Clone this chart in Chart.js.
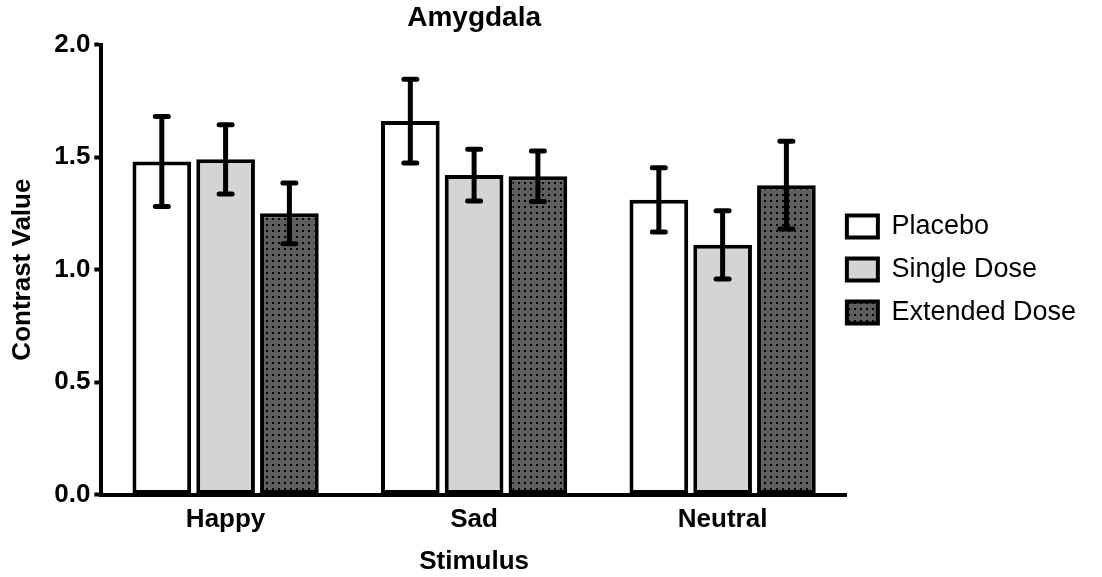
<!DOCTYPE html>
<html>
<head>
<meta charset="utf-8">
<script src="https://cdn.jsdelivr.net/npm/chart.js@4.4.1/dist/chart.umd.min.js"></script>
<style>
    html, body { margin: 0; padding: 0; background: #fff; }
    #wrap { width: 1102px; height: 577px; }
</style>
</head>
<body>
<div id="wrap"><canvas id="chart"></canvas></div>
<script>
// values (mean and SEM per stimulus)
const stimuli = ["Happy", "Sad", "Neutral"];
const placebo = [1.48, 1.66, 1.31];
const placeboSem = [0.20, 0.186, 0.143];
const singleDose = [1.49, 1.42, 1.11];
const singleDoseSem = [0.154, 0.115, 0.152];
const extendedDose = [1.25, 1.415, 1.375];
const extendedDoseSem = [0.135, 0.112, 0.195];
const yTicks = [0, 0.5, 1.0, 1.5, 2.0];

const FONT = "'Liberation Sans', Arial, sans-serif";

// dotted dark grey fill for the extended dose bars
function dotPattern() {
    const c = document.createElement("canvas");
    c.width = 6;
    c.height = 6;
    const g = c.getContext("2d");
    g.fillStyle = "#5e5e5e";
    g.fillRect(0, 0, 6, 6);
    g.fillStyle = "#000";
    g.fillRect(2, 2, 2, 2);
    return g.createPattern(c, "repeat");
}

// draws the SEM whiskers on top of each bar
const errorBars = {
    id: "errorBars",
    afterDatasetsDraw(chart) {
        const ctx = chart.ctx;
        const yScale = chart.scales.y;
        chart.data.datasets.forEach((ds, i) => {
            const meta = chart.getDatasetMeta(i);
            if (meta.hidden) return;
            meta.data.forEach((bar, j) => {
                const v = ds.data[j];
                const e = ds.sem[j];
                const top = yScale.getPixelForValue(v + e);
                const bot = yScale.getPixelForValue(v - e);
                ctx.save();
                ctx.strokeStyle = "#000";
                ctx.lineWidth = 5;
                ctx.lineCap = "round";
                ctx.beginPath();
                ctx.moveTo(bar.x, top);
                ctx.lineTo(bar.x, bot);
                ctx.moveTo(bar.x - 6.5, top);
                ctx.lineTo(bar.x + 6.5, top);
                ctx.moveTo(bar.x - 6.5, bot);
                ctx.lineTo(bar.x + 6.5, bot);
                ctx.stroke();
                ctx.restore();
            });
        });
    }
};

// pull the legend in closer to the plot, like the original figure
const legendNudge = {
    id: "legendNudge",
    afterLayout(chart) {
        const lg = chart.legend;
        lg.left -= 16;
        lg.right -= 16;
        lg.top -= 19;
        lg.bottom -= 19;
    }
};

const ctx = document.getElementById("chart").getContext("2d");

new Chart(ctx, {
    type: "bar",
    data: {
        labels: stimuli,
        datasets: [
            { label: "Placebo", data: placebo, sem: placeboSem, backgroundColor: "#ffffff" },
            { label: "Single Dose", data: singleDose, sem: singleDoseSem, backgroundColor: "#d4d4d4" },
            { label: "Extended Dose", data: extendedDose, sem: extendedDoseSem, backgroundColor: dotPattern() }
        ].map(d => Object.assign(d, {
            borderColor: "#000",
            borderWidth: 4,
            borderSkipped: false,
            categoryPercentage: 0.77,
            barPercentage: 0.92
        }))
    },
    options: {
        responsive: true,
        maintainAspectRatio: false,
        animation: false,
        layout: { padding: { left: 0, right: 0, top: 0, bottom: 0 } },
        plugins: {
            title: {
                display: true,
                text: "Amygdala",
                fullSize: false,
                color: "#000",
                font: { family: FONT, size: 28, weight: "bold" },
                padding: { top: 1, bottom: 10 }
            },
            legend: {
                position: "right",
                align: "center",
                labels: {
                    color: "#000",
                    boxWidth: 31,
                    boxHeight: 22,
                    padding: 16,
                    font: { family: FONT, size: 27 }
                }
            },
            tooltip: { enabled: false }
        },
        scales: {
            x: {
                grid: { display: false },
                border: { display: true, color: "#000", width: 4 },
                ticks: {
                    color: "#000",
                    padding: 2,
                    font: { family: FONT, size: 26, weight: "bold" }
                },
                title: {
                    display: true,
                    text: "Stimulus",
                    color: "#000",
                    font: { family: FONT, size: 26, weight: "bold" },
                    padding: { top: 8, bottom: 0 }
                }
            },
            y: {
                min: 0,
                max: 2,
                afterBuildTicks: scale => { scale.ticks = yTicks.map(v => ({ value: v })); },
                grid: {
                    drawOnChartArea: false,
                    drawTicks: true,
                    tickLength: 7,
                    tickWidth: 4,
                    tickColor: "#000"
                },
                border: { display: true, color: "#000", width: 4 },
                ticks: {
                    color: "#000",
                    padding: 4,
                    font: { family: FONT, size: 26, weight: "bold" },
                    callback: v => v.toFixed(1)
                },
                title: {
                    display: true,
                    text: "Contrast Value",
                    color: "#000",
                    font: { family: FONT, size: 26, weight: "bold" },
                    padding: { top: 7, bottom: 12 }
                }
            }
        }
    },
    plugins: [errorBars, legendNudge]
});
</script>
</body>
</html>
